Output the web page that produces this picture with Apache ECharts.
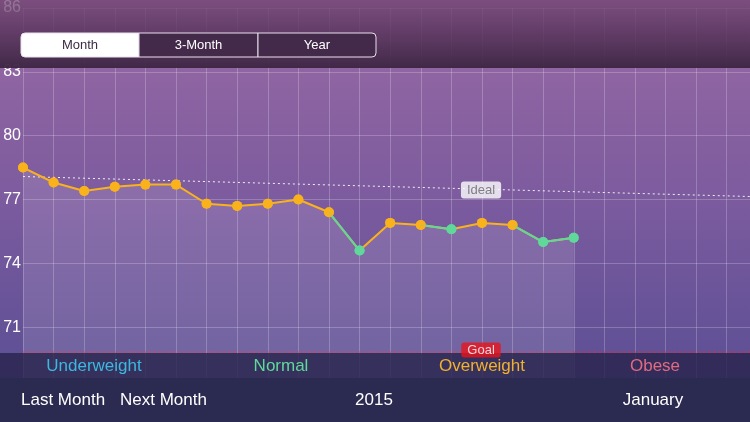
<!DOCTYPE html>
<html><head><meta charset="utf-8">
<script src="https://cdn.jsdelivr.net/npm/echarts@6/dist/echarts.min.js"></script>
<style>html,body{margin:0;padding:0;background:#2b2a50}#c{width:750px;height:422px}</style>
</head><body><div id="c"></div>
<script>
const weights = [78.5,77.8,77.4,77.6,77.7,77.7,76.8,76.7,76.8,77.0,76.4,74.6,75.9,75.8,75.6,75.9,75.8,75.0,75.2];
const greenIdx = [11,14,17,18];
const idealLine = [[0,78.08],[23.76,77.14]];
const goalValue = 69.83;
const yTicks = [71,74,77,80,83,86];
const bmiLabels = ['Underweight','Normal','Overweight','Obese'];
const bmiColors = ['#3cb8e0','#5fd89a','#f0b030','#e06b80'];
const navLabels = ['Last Month','Next Month','2015','January'];
const periods = ['Month','3-Month','Year'];

const F = 'Liberation Sans, Helvetica, Arial, sans-serif';
const mainData = weights.map((v,i)=>({value:[i,v],itemStyle:{color:greenIdx.includes(i)?'#5fd89a':'#f9b21c'}}));
const greenSeg = weights.map((v,i)=> (greenIdx.includes(i)||greenIdx.includes(i+1)) ? [i,v] : [i,null]);

const chart = echarts.init(document.getElementById('c'));
const g = [];
g.push({type:'rect',shape:{x:0,y:0,width:750,height:68},style:{fill:new echarts.graphic.LinearGradient(0,0,0,1,[{offset:0,color:'rgba(110,65,110,0.7)'},{offset:1,color:'rgba(62,38,68,0.97)'}])},z:100});
const bx=[21,139,258,376];
periods.forEach((p,i)=>{
  g.push({type:'rect',shape:{x:bx[i],y:33,width:bx[i+1]-bx[i],height:24,r:i==0?[4,0,0,4]:(i==2?[0,4,4,0]:0)},style:{fill:i==0?'#ffffff':'#43294a',stroke:'#e8e0ec',lineWidth:1},z:101});
  g.push({type:'text',x:(bx[i]+bx[i+1])/2,y:45,style:{text:p,fill:i==0?'#3d2b45':'#ffffff',font:'13px '+F,align:'center',verticalAlign:'middle'},z:102});
});
g.push({type:'rect',shape:{x:0,y:353,width:750,height:25},style:{fill:'rgba(42,36,78,0.82)'},z:100});
const bmiX=[94,281,482,655];
bmiLabels.forEach((t,i)=>g.push({type:'text',x:bmiX[i],y:366,style:{text:t,fill:bmiColors[i],font:'17px '+F,align:'center',verticalAlign:'middle'},z:101}));
g.push({type:'rect',shape:{x:0,y:378,width:750,height:44},style:{fill:'#2b2a50'},z:100});
const navX=[21,120,374,653], navA=['left','left','center','center'];
navLabels.forEach((t,i)=>g.push({type:'text',x:navX[i],y:400,style:{text:t,fill:'#ffffff',font:'17px '+F,align:navA[i],verticalAlign:'middle'},z:101}));

chart.setOption({
  backgroundColor:new echarts.graphic.LinearGradient(0,0,0,1,[{offset:0,color:'#9a6aa4'},{offset:0.5,color:'#7a5a9e'},{offset:1,color:'#544c92'}]),
  animation:false,
  grid:{left:23,right:0,top:7,height:384},
  xAxis:{type:'value',min:0,max:23.76,interval:1,axisLine:{show:false},axisTick:{show:false},axisLabel:{show:false},
    splitLine:{lineStyle:{color:'rgba(255,255,255,0.22)'}}},
  yAxis:{type:'value',min:68,max:86,interval:3,axisLine:{show:false},axisTick:{show:false},
    axisLabel:{color:'#ffffff',fontSize:16,fontFamily:F,margin:2,formatter:v=>yTicks.includes(v)?String(v):''},
    splitLine:{lineStyle:{color:'rgba(255,255,255,0.22)'}}},
  graphic:g,
  series:[
    {type:'line',data:mainData,symbol:'circle',symbolSize:10,lineStyle:{color:'#f9b21c',width:2},
     areaStyle:{color:'rgba(255,255,255,0.16)'},z:5},
    {type:'line',data:greenSeg,symbol:'none',lineStyle:{color:'#5fd89a',width:2},connectNulls:false,z:6},
    {type:'scatter',data:mainData,symbol:'circle',symbolSize:10,z:7},
    {type:'line',data:idealLine,symbol:'none',lineStyle:{color:'rgba(255,255,255,0.9)',type:[2,3],width:1},z:4},
    {type:'scatter',data:[[14.97,77.45]],symbolSize:0,z:8,
     label:{show:true,formatter:'Ideal',color:'#666',fontSize:13,fontFamily:F,backgroundColor:'#ffffff',borderRadius:3,padding:[2,6]}},
    {type:'line',data:[[0,goalValue],[23.76,goalValue]],symbol:'none',lineStyle:{color:'#d0304a',type:[3,2],width:1},z:4},
    {type:'scatter',data:[[14.97,goalValue]],symbolSize:0,z:200,
     label:{show:true,formatter:'Goal',color:'#fff',fontSize:13,fontFamily:F,backgroundColor:'#e8141c',borderRadius:3,padding:[1,6],offset:[0,-2]}}
  ]
});
</script></body></html>
